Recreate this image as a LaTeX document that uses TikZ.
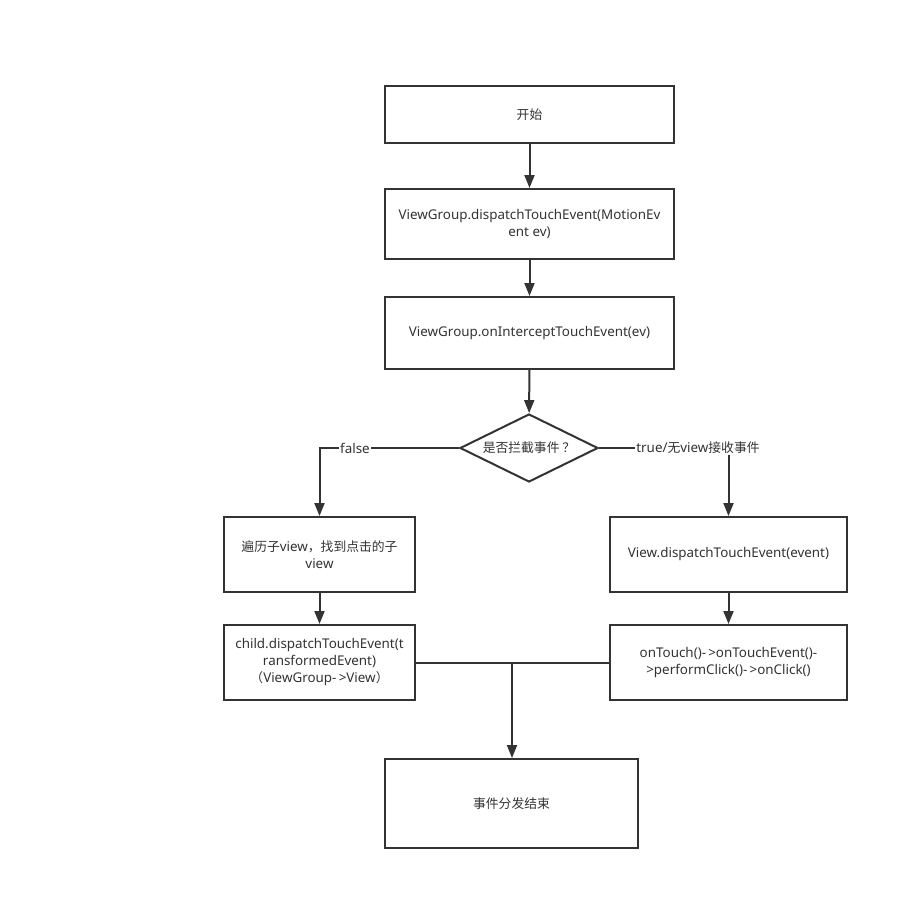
\documentclass[tikz,border=0pt]{standalone}
\usepackage{fontspec}
\setmainfont{Noto Sans}
\newfontfamily\cjk{Noto Sans CJK SC}
\usetikzlibrary{arrows.meta,shapes.geometric}
\definecolor{ink}{HTML}{333333}
\tikzset{
  box/.style={draw=ink, line width=2pt, fill=white, align=center, inner sep=0pt, text=ink},
  dia/.style={draw=ink, line width=2pt, fill=white, diamond, aspect=2.03, inner sep=0pt, text=ink},
  conn/.style={draw=ink, line width=2pt, -{Triangle[length=13pt,width=10pt]}},
  plain/.style={draw=ink, line width=2pt},
  lbl/.style={fill=white, inner sep=1pt, text=ink},
  every node/.append style={font=\fontsize{13.4}{17}\selectfont}
}
\newcommand{\zh}[1]{{\cjk\fontsize{12.8}{16}\selectfont #1}}
\begin{document}
\begin{tikzpicture}[x=1pt,y=-1pt]
\useasboundingbox (0,0) rectangle (909,910);
\node[box, minimum width=289pt, minimum height=57pt] (start) at (529.5,114.5) {\zh{开始}};
\node[box, minimum width=289pt, minimum height=70pt] (disp) at (529.5,224) {ViewGroup.dispatchTouchEvent(MotionEv\\ent ev)};
\node[box, minimum width=289pt, minimum height=72pt] (inter) at (529.5,333) {ViewGroup.onInterceptTouchEvent(ev)};
\node[dia, minimum width=138pt, minimum height=68pt] (dec) at (529,448) {\zh{是否拦截事件 ？}};
\node[box, minimum width=191pt, minimum height=75pt] (l1) at (319.5,554.5) {\zh{遍历子}view\zh{，找到点击的子}\\view};
\node[box, minimum width=191pt, minimum height=75pt] (l2) at (319.5,662.5) {child.dispatchTouchEvent(t\\ransformedEvent)\\\zh{（}ViewGroup-\,>View\zh{）}};
\node[box, minimum width=237pt, minimum height=75pt] (r1) at (728.5,554.5) {View.dispatchTouchEvent(event)};
\node[box, minimum width=237pt, minimum height=75pt] (r2) at (728.5,662.5) {onTouch()-\,>onTouchEvent()-\\>performClick()-\,>onClick()};
\node[box, minimum width=253pt, minimum height=89pt] (end) at (511.5,803.5) {\zh{事件分发结束}};

\coordinate (lc) at (l1.north |- dec.west);
\coordinate (rc) at (r1.north |- dec.east);
\coordinate (mg) at (512,662.5);

\draw[conn] (start) -- (disp);
\draw[conn] (disp) -- (inter);
\draw[conn] (inter) -- (dec);
\draw[conn] (dec.west) -- (lc) -- (l1.north);
\draw[conn] (dec.east) -- (rc) -- (r1.north);
\draw[conn] (l1) -- (l2);
\draw[conn] (r1) -- (r2);
\draw[plain] (l2.east) -- (r2.west);
\draw[conn] (mg) -- (end.north -| mg);
\node[lbl] (fl) at (355,448) {false};
\node[lbl] (tl) at (698,448) {true/\zh{无}view\zh{接收事件}};
\end{tikzpicture}
\end{document}
